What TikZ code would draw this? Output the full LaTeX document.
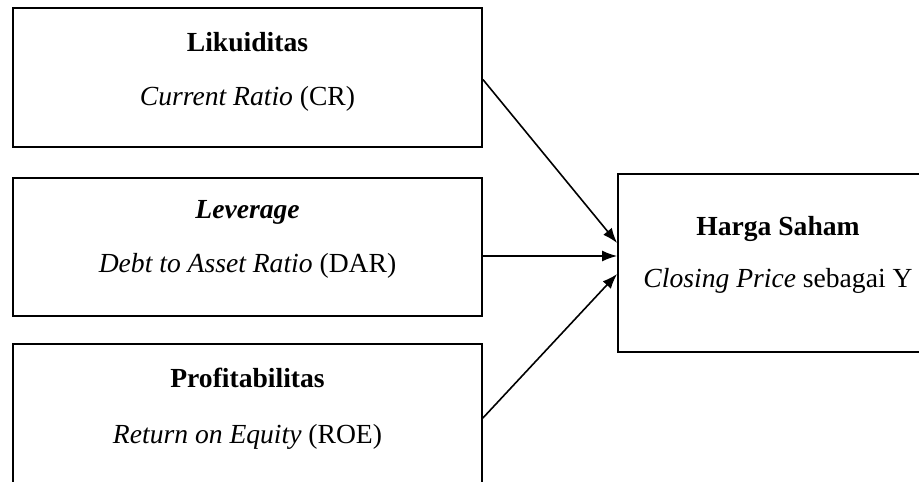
\documentclass[tikz,border=0pt]{standalone}
\usepackage{fontspec}
\setmainfont{Liberation Serif}
\usetikzlibrary{arrows.meta}

\begin{document}
\begin{tikzpicture}[x=0.5pt,y=-0.5pt,
        box/.style={draw,line width=0.9pt,inner sep=0pt,minimum width=234.5pt},
        judul/.style={anchor=base,font=\fontsize{13.8}{16}\selectfont\bfseries},
        isi/.style={anchor=base,font=\fontsize{13.8}{16}\selectfont},
        panah/.style={-{Latex[length=7.5pt,width=5.5pt]},line width=0.8pt}]
            \useasboundingbox (0,0) rectangle (919,481);
            \clip (0,0) rectangle (919,481);
            % kotak variabel
            \node[box,minimum height=69.5pt](likuid) at (247.5,77.5) {};
            \node[box,minimum height=69pt](lever) at (247.5,247) {};
            \node[box,minimum height=74pt](profit) at (247.5,418) {};
            \node[box,minimum width=160pt,minimum height=89pt](harga) at (778,263) {};
            % teks
            \node[judul](likuidJ) at (247.5,52)  {Likuiditas};
            \node[isi](likuidI)   at (247.5,105) {\textit{Current Ratio} (CR)};
            \node[judul](leverJ)  at (247.5,218) {\itshape Leverage};
            \node[isi](leverI)    at (247.5,272) {\textit{Debt to Asset Ratio} (DAR)};
            \node[judul](profitJ) at (247.5,387) {Profitabilitas};
            \node[isi](profitI)   at (247.5,443) {\textit{Return on Equity} (ROE)};
            \node[judul](hargaJ)  at (778,235)   {Harga Saham};
            \node[isi](hargaI)    at (778,287)   {\textit{Closing Price} sebagai Y};
            \path[panah]
                ([yshift=-1pt]likuid.east) edge ([yshift=10pt]harga.west)
                ([yshift=-4.5pt]lever.east) edge ([yshift=3.5pt]harga.west)
                (profit.east) edge ([yshift=-5.5pt]harga.west)
                ;
        \end{tikzpicture}
\end{document}
